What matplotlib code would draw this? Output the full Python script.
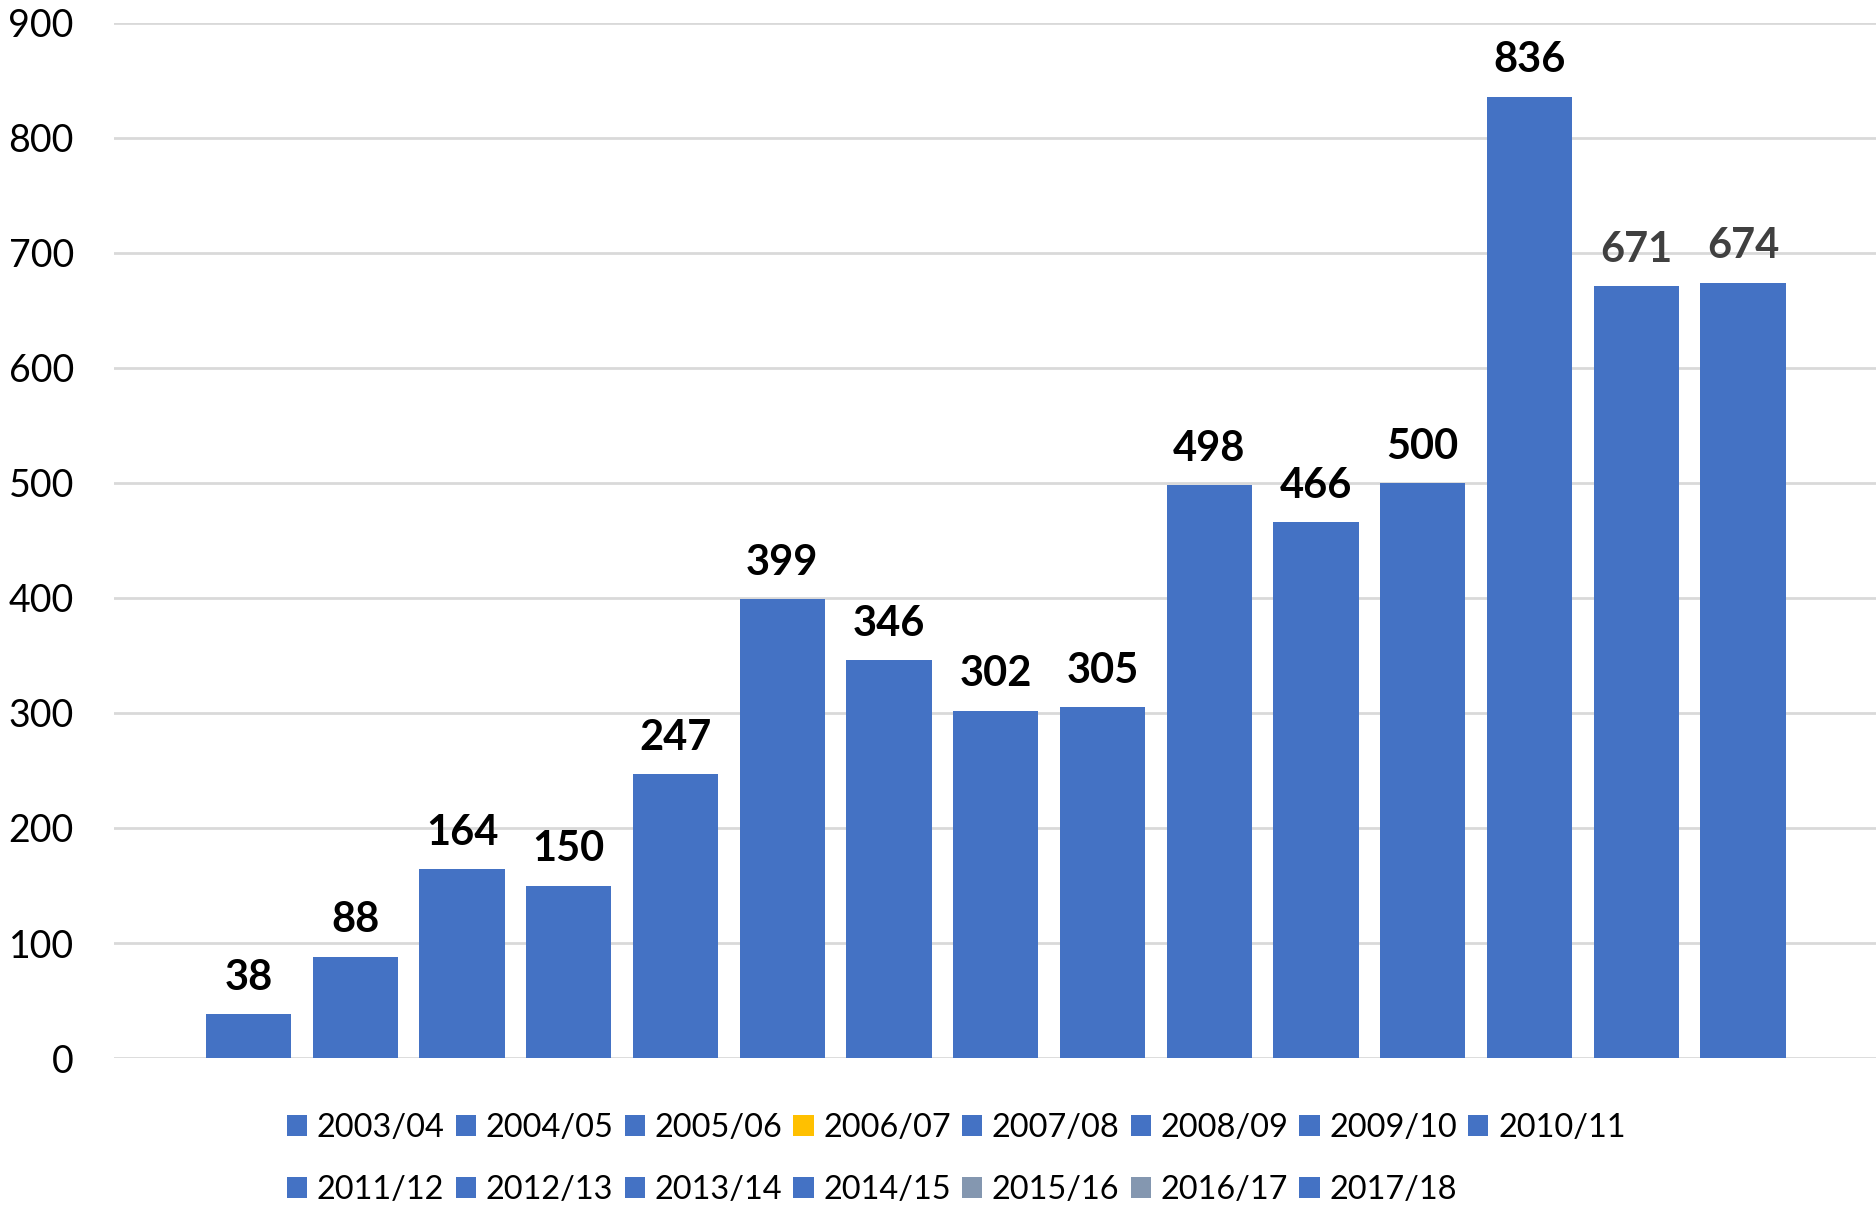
import numpy as np
import matplotlib
matplotlib.use("Agg")
import matplotlib.pyplot as plt
from matplotlib.patches import Patch

seasons = ["2003/04", "2004/05", "2005/06", "2006/07", "2007/08",
           "2008/09", "2009/10", "2010/11", "2011/12", "2012/13",
           "2013/14", "2014/15", "2015/16", "2016/17", "2017/18"]
values = [38, 88, 164, 150, 247, 399, 346, 302, 305, 498,
          466, 500, 836, 671, 674]
legend_colors = ["#4472C4", "#4472C4", "#4472C4", "#FFC000", "#4472C4",
                 "#4472C4", "#4472C4", "#4472C4", "#4472C4", "#4472C4",
                 "#4472C4", "#4472C4", "#8497B0", "#8497B0", "#4472C4"]
label_colors = ["black"] * 13 + ["#404040", "#404040"]
yticks = [0, 100, 200, 300, 400, 500, 600, 700, 800, 900]

BLUE = "#4472C4"
plt.rcParams["font.family"] = ["Lato", "DejaVu Sans"]

fig = plt.figure(figsize=(18.76, 12.06), dpi=100)
ax = fig.add_axes([0.0608, 0.1227, 0.9392, 0.981 - 0.1227])

x = np.arange(len(values))
ax.bar(x, values, width=0.8, color=BLUE, zorder=3)

for xi, v, c in zip(x, values, label_colors):
    ax.annotate(str(v), (xi, v), xytext=(0, 12.5), textcoords="offset points",
                ha="center", va="bottom", fontsize=30, fontweight="bold",
                color=c, zorder=4)

ax.set_ylim(0, 900)
ax.set_xlim(-1.26, len(values) - 1 + 1.246)
ax.set_yticks(yticks)
ax.set_xticks([])
ax.tick_params(axis="y", length=0, pad=29, labelsize=27)
ax.yaxis.grid(True, color="#D9D9D9", linewidth=2, zorder=0)
for s in ax.spines.values():
    s.set_visible(False)

# row-major order for a 2-row legend (matplotlib fills column by column)
handles = [Patch(facecolor=c, edgecolor="none") for c in legend_colors]
order = []
for k in range(7):
    order += [k, k + 8]
order.append(7)
leg = fig.legend([handles[i] for i in order], [seasons[i] for i in order],
                 ncol=8, loc="upper left", bbox_to_anchor=(0.153, 0.077),
                 frameon=False, borderpad=0, borderaxespad=0,
                 handlelength=0.62, handleheight=0.62, handletextpad=0.3,
                 columnspacing=0.34, labelspacing=0.97, fontsize=23.4)

fig.savefig("out.png", dpi=100)
